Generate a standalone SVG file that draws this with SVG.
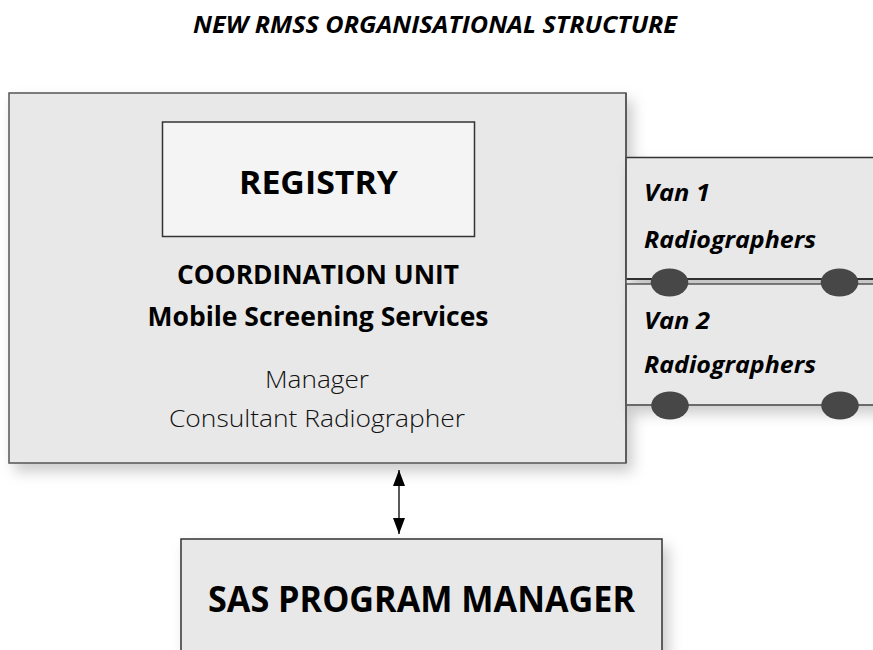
<svg xmlns="http://www.w3.org/2000/svg" width="873" height="650" viewBox="0 0 873 650">
<defs>
<filter id="sh" x="-10%" y="-10%" width="130%" height="140%">
<feDropShadow dx="6" dy="8" stdDeviation="7" flood-color="#000" flood-opacity="0.2"/>
</filter>
<marker id="ah" viewBox="0 0 16 12" refX="16" refY="6" markerWidth="16" markerHeight="12" markerUnits="userSpaceOnUse" orient="auto-start-reverse">
<path d="M0,0 L16,6 L0,12 z" fill="#000"/>
</marker>
</defs>
<style>
.box{fill:#e8e8e8;stroke:#555;stroke-width:1.5}
.reg{fill:#f4f4f4;stroke:#333;stroke-width:1.5}
.b{font-family:"Open Sans","Noto Sans",sans-serif;font-weight:700;fill:#000}
.bi{font-family:"Open Sans","Noto Sans",sans-serif;font-weight:700;font-style:italic;fill:#000}
.l{font-family:"Open Sans","Noto Sans",sans-serif;font-weight:300;fill:#111}
.wheel{fill:#474747}
</style>
<rect width="873" height="650" fill="#fff"/>
<text class="bi" x="435" y="33" font-size="23" text-anchor="middle" textLength="484" lengthAdjust="spacingAndGlyphs">NEW RMSS ORGANISATIONAL STRUCTURE</text>

<g id="coordination-unit">
<rect class="box" x="9" y="93" width="617" height="370" filter="url(#sh)"/>
<text class="b" x="318" y="284" font-size="26" text-anchor="middle" textLength="282" lengthAdjust="spacingAndGlyphs">COORDINATION UNIT</text>
<text class="b" x="318" y="326" font-size="26" text-anchor="middle" textLength="341" lengthAdjust="spacingAndGlyphs">Mobile Screening Services</text>
<text class="l" x="317" y="388" font-size="24" text-anchor="middle" textLength="104" lengthAdjust="spacingAndGlyphs">Manager</text>
<text class="l" x="317" y="427" font-size="24" text-anchor="middle" textLength="296" lengthAdjust="spacingAndGlyphs">Consultant Radiographer</text>
</g>

<g id="registry">
<rect class="reg" x="162.5" y="122" width="312" height="114.5"/>
<text class="b" x="318.5" y="194" font-size="33" text-anchor="middle" textLength="159" lengthAdjust="spacingAndGlyphs">REGISTRY</text>
</g>

<g id="vans">
<rect x="626" y="279" width="260" height="5" fill="#f2f2f2"/>
<g id="van1">
<rect class="box" x="626" y="157.5" width="260" height="121.5" style="stroke:#333" filter="url(#sh)"/>
<text class="bi" x="644" y="201" font-size="24" textLength="66" lengthAdjust="spacingAndGlyphs">Van 1</text>
<text class="bi" x="644" y="248" font-size="23" textLength="172" lengthAdjust="spacingAndGlyphs">Radiographers</text>
</g>
<g id="van2">
<rect class="box" x="626" y="284" width="260" height="121" filter="url(#sh)"/>
<text class="bi" x="644" y="329" font-size="24" textLength="66" lengthAdjust="spacingAndGlyphs">Van 2</text>
<text class="bi" x="644" y="373" font-size="23" textLength="172" lengthAdjust="spacingAndGlyphs">Radiographers</text>
</g>
<line x1="626" y1="279" x2="873" y2="279" stroke="#222" stroke-width="1.5"/>
<line x1="626" y1="405" x2="873" y2="405" stroke="#666" stroke-width="1.5"/>
<ellipse class="wheel" cx="669.5" cy="282.5" rx="18.8" ry="14"/>
<ellipse class="wheel" cx="839.5" cy="282.5" rx="18.8" ry="14"/>
<ellipse class="wheel" cx="670" cy="405.5" rx="18.8" ry="14"/>
<ellipse class="wheel" cx="840" cy="405.5" rx="18.8" ry="14"/>
<line x1="626" y1="93" x2="626" y2="463" stroke="#555" stroke-width="1.5"/>
</g>

<g id="sas-program-manager">
<rect class="box" x="181" y="539" width="481" height="130" style="stroke:#333" filter="url(#sh)"/>
<text class="b" x="421.5" y="612" font-size="35" text-anchor="middle" textLength="427" lengthAdjust="spacingAndGlyphs">SAS PROGRAM MANAGER</text>
</g>

<g id="connectors">
<line x1="399" y1="470" x2="399" y2="534" stroke="#000" stroke-width="1.3" marker-start="url(#ah)" marker-end="url(#ah)"/>
</g>
</svg>
